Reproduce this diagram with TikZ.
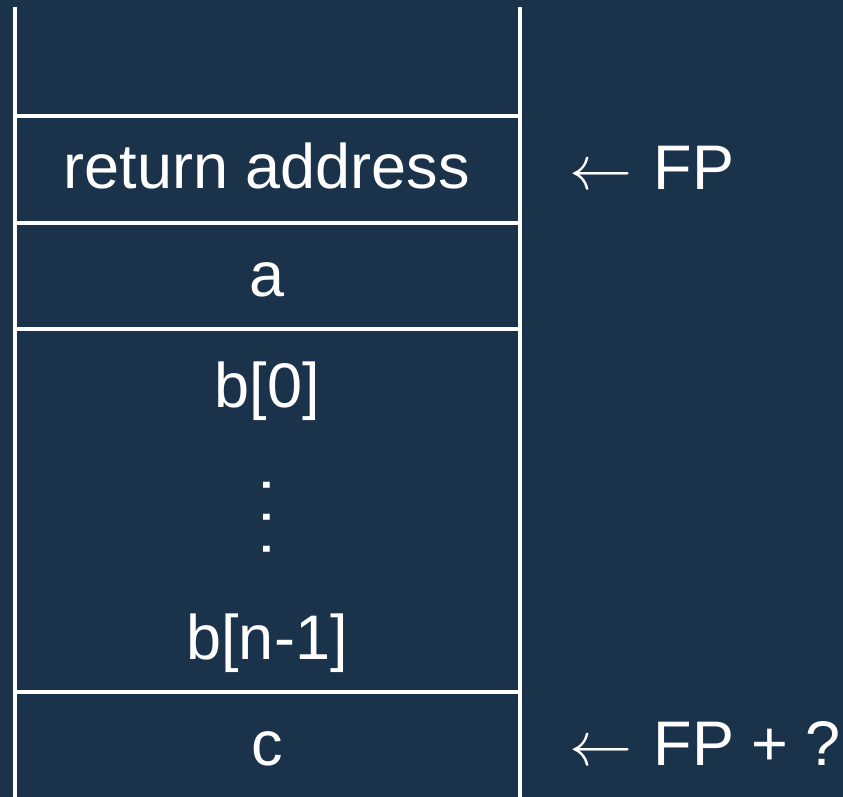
\RequirePackage{fix-cm}
\documentclass[tikz,border=0pt]{standalone}
\usepackage{fontspec}
\setmainfont{Liberation Sans}
\usepackage{xcolor}
\definecolor{stackbg}{HTML}{1B324B}
\tikzset{
  cell/.style={white, line width=4pt},
  slot/.style={white, anchor=base, inner sep=0pt, font=\fontsize{63}{70}\selectfont},
  tag/.style={slot, anchor=base west}
}

\begin{document}
\begin{tikzpicture}[x=1pt, y=-1pt]
        \fill[stackbg] (0, 0) rectangle (843, 797);
        \useasboundingbox (0, 0) rectangle (843, 797);
        % frame of the stack
        \draw[cell] (14.5, 7) -- (14.5, 797);
        \draw[cell] (520, 7) -- (520, 797);
        \foreach \y in {116,223,329,692}
        \draw[cell] (14.5, \y) -- (520, \y);
        % contents
        \node[slot] (ret) at (267, 188) {return address};
        \node[slot] (vara) at (267, 296) {a};
        \node[slot] (bfirst) at (267, 407) {b[0]};
        \node[slot, anchor=center, rotate=-90] (dots) at (267, 517)
              {.\kern14.5pt.\kern14.5pt.};
        \node[slot] (blast) at (267, 659) {b[n-1]};
        \node[slot] (varc) at (267, 765) {c};
        % pointers
        \node[tag] (fp) at (569, 189) {$\leftarrow$\kern4pt{} FP};
        \node[tag] (fpq) at (569, 765) {$\leftarrow$\kern4pt{} FP + ?};
\end{tikzpicture}
\end{document}
